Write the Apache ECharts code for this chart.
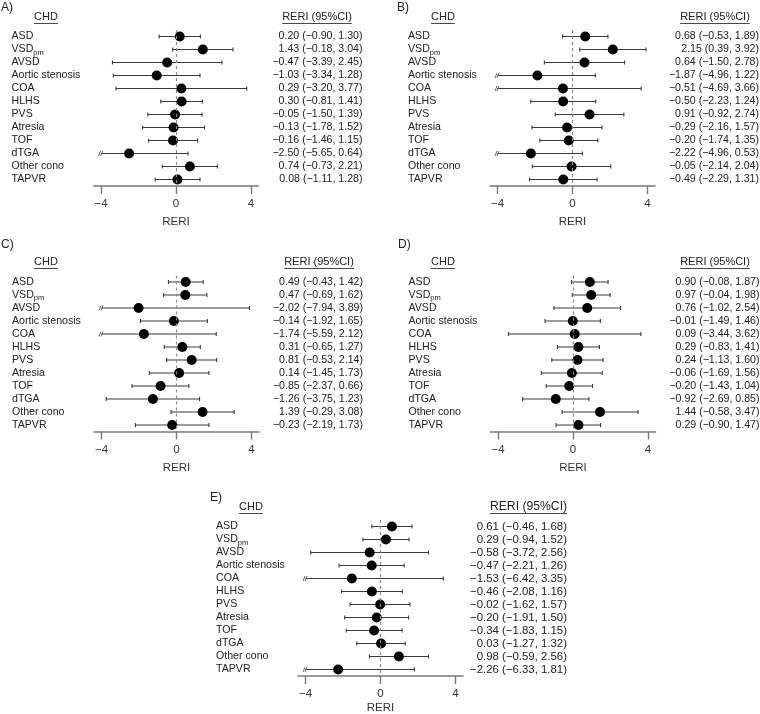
<!DOCTYPE html>
<html>
<head>
<meta charset="utf-8">
<script src="https://cdn.jsdelivr.net/npm/echarts@6/dist/echarts.min.js"></script>
<style>html,body{margin:0;padding:0;background:#fff}#c{width:760px;height:714px}</style>
</head>
<body>
<div id="c"></div>
<script>
// ---- data ----
const categories = ['ASD','VSDpm','AVSD','Aortic stenosis','COA','HLHS','PVS','Atresia','TOF','dTGA','Other cono','TAPVR'];
const xTicks = [-4, 0, 4];
const clipAt = -4;

const aEst = [0.20, 1.43, -0.47, -1.03, 0.29, 0.30, -0.05, -0.13, -0.16, -2.50, 0.74, 0.08];
const aLo  = [-0.90, -0.18, -3.39, -3.34, -3.20, -0.81, -1.50, -1.78, -1.46, -5.65, -0.73, -1.11];
const aHi  = [1.30, 3.04, 2.45, 1.28, 3.77, 1.41, 1.39, 1.52, 1.15, 0.64, 2.21, 1.28];

const bEst = [0.68, 2.15, 0.64, -1.87, -0.51, -0.50, 0.91, -0.29, -0.20, -2.22, -0.05, -0.49];
const bLo  = [-0.53, 0.39, -1.50, -4.96, -4.69, -2.23, -0.92, -2.16, -1.74, -4.96, -2.14, -2.29];
const bHi  = [1.89, 3.92, 2.78, 1.22, 3.66, 1.24, 2.74, 1.57, 1.35, 0.53, 2.04, 1.31];

const cEst = [0.49, 0.47, -2.02, -0.14, -1.74, 0.31, 0.81, 0.14, -0.85, -1.26, 1.39, -0.23];
const cLo  = [-0.43, -0.69, -7.94, -1.92, -5.59, -0.65, -0.53, -1.45, -2.37, -3.75, -0.29, -2.19];
const cHi  = [1.42, 1.62, 3.89, 1.65, 2.12, 1.27, 2.14, 1.73, 0.66, 1.23, 3.08, 1.73];

const dEst = [0.90, 0.97, 0.76, -0.01, 0.09, 0.29, 0.24, -0.06, -0.20, -0.92, 1.44, 0.29];
const dLo  = [-0.08, -0.04, -1.02, -1.49, -3.44, -0.83, -1.13, -1.69, -1.43, -2.69, -0.58, -0.90];
const dHi  = [1.87, 1.98, 2.54, 1.46, 3.62, 1.41, 1.60, 1.56, 1.04, 0.85, 3.47, 1.47];

const eEst = [0.61, 0.29, -0.58, -0.47, -1.53, -0.46, -0.02, -0.20, -0.34, 0.03, 0.98, -2.26];
const eLo  = [-0.46, -0.94, -3.72, -2.21, -6.42, -2.08, -1.62, -1.91, -1.83, -1.27, -0.59, -6.33];
const eHi  = [1.68, 1.52, 2.56, 1.26, 3.35, 1.16, 1.57, 1.50, 1.15, 1.32, 2.56, 1.81];

const panelLetters = ['A)', 'B)', 'C)', 'D)', 'E)'];
const colHeaderLeft = 'CHD';
const colHeaderRight = 'RERI (95%CI)';
const axisName = 'RERI';

// ---- layout (positions / styles only) ----
const FONT = '"Liberation Sans", Arial, Helvetica, sans-serif';
const panels = [
  {est:aEst, lo:aLo, hi:aHi, left:93.5, top:30,  letter:[1,8],    chd:[46,17],   rh:[317,17],   vf:10.6, hf:11, ng:30},
  {est:bEst, lo:bLo, hi:bHi, left:490,  top:30,  letter:[397,8],  chd:[443,17],  rh:[715,17],  vf:10.6, hf:11, ng:30},
  {est:cEst, lo:cLo, hi:cHi, left:94,   top:275.5, letter:[1,245], chd:[46,262], rh:[319,262],  vf:10.6, hf:11, ng:30},
  {est:dEst, lo:dLo, hi:dHi, left:490.5,top:275.5, letter:[398,245], chd:[443,262], rh:[715,262], vf:10.6, hf:11, ng:30},
  {est:eEst, lo:eLo, hi:eHi, left:298,  top:520, letter:[210,498], chd:[251,507], rh:[528.5,507], vf:11.4, hf:12.2, ng:26}
];
const GW = 165, GH = 156;
const XMIN = -4.4, XMAX = 4.4;

function fmt(v) { return (v < 0 ? '\u2212' : '') + Math.abs(v).toFixed(2); }
function ciText(e, l, h) { return fmt(e) + ' (' + fmt(l) + ', ' + fmt(h) + ')'; }

const measureCtx = document.createElement('canvas').getContext('2d');
function textW(t, size) { measureCtx.font = size + 'px ' + FONT; return measureCtx.measureText(t).width; }

const grid = [], xAxis = [], yAxis = [], series = [], graphic = [];

panels.forEach((p, k) => {
  grid.push({left: p.left, top: p.top, width: GW, height: GH, outerBoundsMode: 'none', containLabel: false});
  xAxis.push({
    type: 'value', gridIndex: k, min: XMIN, max: XMAX,
    axisLine: {show: true, onZero: false, lineStyle: {color: '#7a7a7a', width: 1.6}},
    axisTick: {show: true, customValues: xTicks, length: 8, lineStyle: {color: '#7a7a7a', width: 1.4}},
    axisLabel: {show: true, customValues: xTicks, margin: 12, color: '#333', fontSize: 11.5, fontFamily: FONT,
      formatter: v => (v < 0 ? '\u2212' + Math.abs(v) : String(v))},
    splitLine: {show: false},
    name: axisName, nameLocation: 'middle', nameGap: p.ng,
    nameTextStyle: {color: '#333', fontSize: 11.5, fontFamily: FONT}
  });
  // left category labels
  yAxis.push({
    type: 'category', gridIndex: k, data: categories, inverse: true, position: 'left',
    axisLine: {show: false}, axisTick: {show: false}, splitLine: {show: false},
    axisLabel: {
      show: true, interval: 0, align: 'left', margin: 82, color: '#222', fontFamily: FONT, fontSize: 10.6,
      formatter: v => v === 'VSDpm' ? '{n|VSD}{s|pm}' : '{n|' + v + '}',
      rich: {
        n: {fontSize: 10.6, fontFamily: FONT, color: '#222', lineHeight: 14},
        s: {fontSize: 7.5, fontFamily: FONT, color: '#222', lineHeight: 6, verticalAlign: 'bottom'}
      }
    }
  });
  // right value labels
  const texts = categories.map((c, i) => ciText(p.est[i], p.lo[i], p.hi[i]));
  yAxis.push({
    type: 'category', gridIndex: k, data: texts, inverse: true, position: 'right',
    axisLine: {show: false}, axisTick: {show: false}, splitLine: {show: false},
    axisLabel: {show: true, interval: 0, align: 'right', margin: 104, color: '#222', fontFamily: FONT, fontSize: p.vf}
  });
  const yL = 2 * k;
  series.push({
    type: 'custom', xAxisIndex: k, yAxisIndex: yL, silent: true, clip: false,
    data: categories.map((c, i) => [p.lo[i], p.hi[i], i]),
    renderItem: function (params, api) {
      const lo = api.value(0), hi = api.value(1), row = api.value(2);
      const clipped = lo < clipAt;
      const a = api.coord([clipped ? clipAt : lo, row]);
      const b = api.coord([hi, row]);
      const st = {stroke: '#3a3a3a', lineWidth: 1.1};
      const ch = [
        {type: 'line', shape: {x1: a[0], y1: a[1], x2: b[0], y2: b[1]}, style: st},
        {type: 'line', shape: {x1: b[0], y1: b[1] - 2, x2: b[0], y2: b[1] + 2}, style: st}
      ];
      if (clipped) {
        ch.push({type: 'line', shape: {x1: a[0] - 2.5, y1: a[1] + 2.5, x2: a[0] - 0.5, y2: a[1] - 2.5}, style: {stroke: '#555', lineWidth: 0.9}});
        ch.push({type: 'line', shape: {x1: a[0] - 0.5, y1: a[1] + 2.5, x2: a[0] + 1.5, y2: a[1] - 2.5}, style: {stroke: '#555', lineWidth: 0.9}});
      } else {
        ch.push({type: 'line', shape: {x1: a[0], y1: a[1] - 2, x2: a[0], y2: a[1] + 2}, style: st});
      }
      return {type: 'group', children: ch};
    },
    markLine: {
      silent: true, symbol: 'none', label: {show: false},
      lineStyle: {type: [3, 3], color: '#8a8a8a', width: 1.2},
      data: [{xAxis: 0}]
    },
    z: 2
  });
  series.push({
    type: 'scatter', xAxisIndex: k, yAxisIndex: yL, silent: true,
    symbol: 'circle', symbolSize: 10,
    itemStyle: {color: '#000', opacity: 1},
    data: categories.map((c, i) => [p.est[i], c]),
    z: 3
  });
  // headers
  graphic.push({type: 'text', x: p.letter[0], y: p.letter[1],
    style: {text: panelLetters[k], font: '12px ' + FONT, fill: '#222', textAlign: 'left', textVerticalAlign: 'middle'}});
  graphic.push({type: 'text', x: p.chd[0], y: p.chd[1],
    style: {text: colHeaderLeft, font: '11px ' + FONT, fill: '#222', textAlign: 'center', textVerticalAlign: 'middle'}});
  const w1 = textW(colHeaderLeft, 11);
  graphic.push({type: 'line', shape: {x1: p.chd[0] - w1 / 2, y1: p.chd[1] + 6.5, x2: p.chd[0] + w1 / 2, y2: p.chd[1] + 6.5},
    style: {stroke: '#333', lineWidth: 0.9}});
  graphic.push({type: 'text', x: p.rh[0], y: p.rh[1],
    style: {text: colHeaderRight, font: p.hf + 'px ' + FONT, fill: '#222', textAlign: 'center', textVerticalAlign: 'middle'}});
  const w2 = textW(colHeaderRight, p.hf);
  graphic.push({type: 'line', shape: {x1: p.rh[0] - w2 / 2, y1: p.rh[1] + 6.5, x2: p.rh[0] + w2 / 2, y2: p.rh[1] + 6.5},
    style: {stroke: '#333', lineWidth: 0.9}});
});

const chart = echarts.init(document.getElementById('c'), null, {renderer: 'canvas'});
chart.setOption({
  animation: false,
  backgroundColor: '#ffffff',
  textStyle: {fontFamily: FONT},
  grid, xAxis, yAxis, series, graphic
});
</script>
</body>
</html>
